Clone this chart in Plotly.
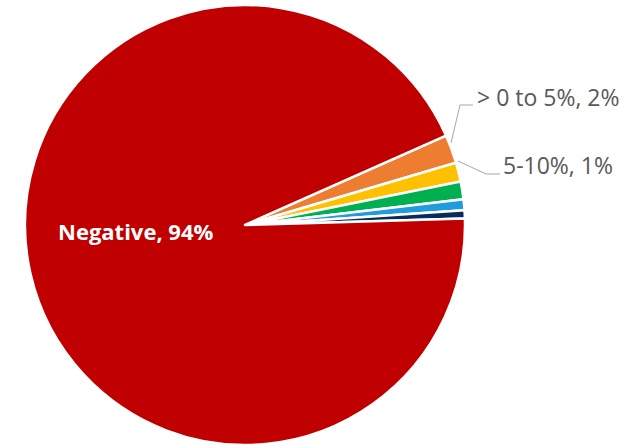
import plotly.graph_objects as go

labels = ["> 0 to 5%", "5-10%", "10-20%", "20-50%", "> 50%", "Negative"]
values = [2.1, 1.4, 1.3, 0.8, 0.6, 93.8]
colors = ["#ED7D31", "#FFC000", "#00B050", "#1F9BDE", "#0B2A5C", "#C00000"]
shown_pct = [2, 1, None, None, None, 94]

W, H = 633, 446
cx, cy, r = 245, 225, 220

fig = go.Figure(go.Pie(
    labels=labels, values=values, sort=False, direction="clockwise",
    rotation=66, textinfo="none", hoverinfo="label+percent",
    marker=dict(colors=colors, line=dict(color="white", width=2.5)),
    domain=dict(x=[(cx - r) / W, (cx + r) / W], y=[1 - (cy + r) / H, 1 - (cy - r) / H]),
    showlegend=False,
))

font_out = dict(family="Open Sans, Liberation Sans, sans-serif", size=23, color="#595959")
anns = [
    dict(x=475 / W, y=1 - 97 / H, text=f"{labels[0]}, {shown_pct[0]}%", xanchor="left", yanchor="middle", font=font_out),
    dict(x=501 / W, y=1 - 165 / H, text=f"{labels[1]}, {shown_pct[1]}%", xanchor="left", yanchor="middle", font=font_out),
    dict(x=136 / W, y=1 - 231 / H, text=f"<b>{labels[5]}, {shown_pct[5]}%</b>", xanchor="center", yanchor="middle",
         font=dict(family="Open Sans, Liberation Sans, sans-serif", size=22, color="white")),
]
for a in anns:
    a.update(xref="paper", yref="paper", showarrow=False)

line_style = dict(color="#A6A6A6", width=1)


def P(x, y):
    return f"{x / W},{1 - y / H}"


shapes = [
    dict(type="path", xref="paper", yref="paper", line=line_style,
         path=f"M {P(451,143)} L {P(460,105)} L {P(473,105)}"),
    dict(type="path", xref="paper", yref="paper", line=line_style,
         path=f"M {P(458,161)} L {P(486,174)} L {P(500,174)}"),
]

fig.update_layout(
    width=W, height=H, margin=dict(l=0, r=0, t=0, b=0),
    paper_bgcolor="white", plot_bgcolor="white",
    annotations=anns, shapes=shapes,
)
fig.write_html("out.html")
